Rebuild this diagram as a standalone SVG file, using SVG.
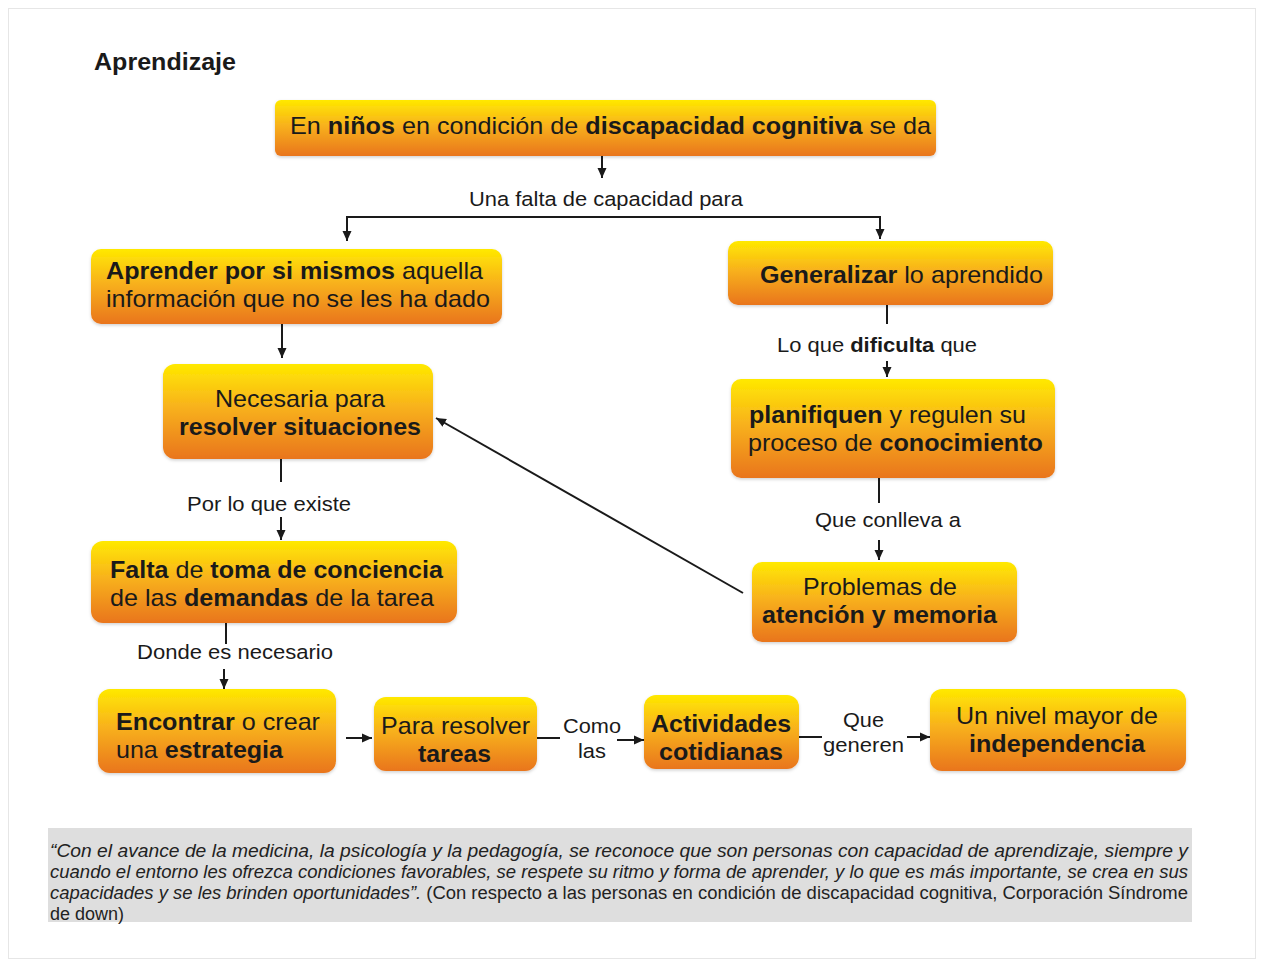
<svg xmlns="http://www.w3.org/2000/svg" width="1262" height="962" viewBox="0 0 1262 962">
  <style>
    .box { fill: url(#orange); filter: url(#soft); }
    .bt { font-family: "Liberation Sans", Arial, sans-serif; font-size: 24px; fill: #1a1a1a; }
    .b { font-weight: bold; }
    .lbl { font-family: "Liberation Sans", Arial, sans-serif; font-size: 20.5px; fill: #1a1a1a; }
    .ln { fill: none; stroke: #1a1a1a; stroke-width: 2; }
    .q { font-family: "Liberation Sans", Arial, sans-serif; font-size: 18px; fill: #222; }
    .i { font-style: italic; }
  </style>
  <defs>
    <linearGradient id="orange" x1="0" y1="0" x2="0" y2="1">
      <stop offset="0" stop-color="#ffe900"/>
      <stop offset="0.45" stop-color="#f8b21c"/>
      <stop offset="1" stop-color="#e9751b"/>
    </linearGradient>
    <filter id="soft" x="-5%" y="-10%" width="110%" height="125%">
      <feDropShadow dx="0" dy="1.5" stdDeviation="1.5" flood-color="#000" flood-opacity="0.18"/>
    </filter>
    <marker id="arr" markerUnits="userSpaceOnUse" markerWidth="12" markerHeight="12" refX="10" refY="6" orient="auto">
      <path d="M0,1.5 L10,6 L0,10.5 Z" fill="#1a1a1a"/>
    </marker>
  </defs>

  <rect width="1262" height="962" fill="#fff"/>
  <rect x="8.5" y="8.5" width="1247" height="950" fill="none" stroke="#e6e6e6" stroke-width="1"/>

  <text x="94" y="70" font-family="Liberation Sans, Arial, sans-serif" font-size="23" font-weight="bold" fill="#1a1a1a" textLength="142" lengthAdjust="spacingAndGlyphs">Aprendizaje</text>

  <!-- connectors -->
  <g id="connectors">
    <line class="ln" x1="602" y1="156" x2="602" y2="178" marker-end="url(#arr)"/>
    <text class="lbl" x="469" y="206" textLength="274" lengthAdjust="spacingAndGlyphs">Una falta de capacidad para</text>
    <polyline class="ln" points="347,240 347,217 880,217 880,239" marker-end="url(#arr)"/>
    <line class="ln" x1="347" y1="222" x2="347" y2="241" marker-end="url(#arr)"/>

    <line class="ln" x1="282" y1="324" x2="282" y2="358" marker-end="url(#arr)"/>

    <line class="ln" x1="281" y1="459" x2="281" y2="482"/>
    <text class="lbl" x="187" y="511" textLength="164" lengthAdjust="spacingAndGlyphs">Por lo que existe</text>
    <line class="ln" x1="281" y1="517" x2="281" y2="540" marker-end="url(#arr)"/>

    <line class="ln" x1="226" y1="623" x2="226" y2="644"/>
    <text class="lbl" x="137" y="659" textLength="196" lengthAdjust="spacingAndGlyphs">Donde es necesario</text>
    <line class="ln" x1="224" y1="669" x2="224" y2="689" marker-end="url(#arr)"/>

    <line class="ln" x1="346" y1="738" x2="372" y2="738" marker-end="url(#arr)"/>

    <line class="ln" x1="537" y1="738" x2="560" y2="738"/>
    <text class="lbl" x="563" y="733" textLength="58" lengthAdjust="spacingAndGlyphs">Como</text>
    <text class="lbl" x="578" y="758" textLength="28" lengthAdjust="spacingAndGlyphs">las</text>
    <line class="ln" x1="617" y1="740" x2="644" y2="740" marker-end="url(#arr)"/>

    <line class="ln" x1="799" y1="737" x2="822" y2="737"/>
    <text class="lbl" x="843" y="727" textLength="41" lengthAdjust="spacingAndGlyphs">Que</text>
    <text class="lbl" x="823" y="752" textLength="81" lengthAdjust="spacingAndGlyphs">generen</text>
    <line class="ln" x1="907" y1="737" x2="930" y2="737" marker-end="url(#arr)"/>

    <line class="ln" x1="887" y1="305" x2="887" y2="324"/>
    <text class="lbl" x="777" y="352" textLength="200" lengthAdjust="spacingAndGlyphs">Lo que <tspan class="b">dificulta</tspan> que</text>
    <line class="ln" x1="887" y1="361" x2="887" y2="377" marker-end="url(#arr)"/>

    <line class="ln" x1="879" y1="478" x2="879" y2="503"/>
    <text class="lbl" x="815" y="527" textLength="146" lengthAdjust="spacingAndGlyphs">Que conlleva a</text>
    <line class="ln" x1="879" y1="540" x2="879" y2="560" marker-end="url(#arr)"/>

    <line class="ln" x1="743" y1="593" x2="436" y2="418" marker-end="url(#arr)"/>
  </g>

  <!-- nodes -->
  <g id="n-origen">
    <rect class="box" x="275" y="100" width="661" height="56" rx="6"/>
    <text class="bt" x="290" y="134" textLength="641" lengthAdjust="spacingAndGlyphs">En <tspan class="b">niños</tspan> en condición de <tspan class="b">discapacidad cognitiva</tspan> se da</text>
  </g>
  <g id="n-aprender">
    <rect class="box" x="91" y="249" width="411" height="75" rx="10"/>
    <text class="bt" x="106" y="279" textLength="377" lengthAdjust="spacingAndGlyphs"><tspan class="b">Aprender por si mismos</tspan> aquella</text>
    <text class="bt" x="106" y="307" textLength="384" lengthAdjust="spacingAndGlyphs">información que no se les ha dado</text>
  </g>
  <g id="n-generalizar">
    <rect class="box" x="728" y="241" width="325" height="64" rx="10"/>
    <text class="bt" x="760" y="283" textLength="283" lengthAdjust="spacingAndGlyphs"><tspan class="b">Generalizar</tspan> lo aprendido</text>
  </g>
  <g id="n-necesaria">
    <rect class="box" x="163" y="364" width="270" height="95" rx="12"/>
    <text class="bt" x="215" y="407" textLength="170" lengthAdjust="spacingAndGlyphs">Necesaria para</text>
    <text class="bt b" x="179" y="435" textLength="242" lengthAdjust="spacingAndGlyphs">resolver situaciones</text>
  </g>
  <g id="n-planifiquen">
    <rect class="box" x="731" y="379" width="324" height="99" rx="10"/>
    <text class="bt" x="749" y="423" textLength="277" lengthAdjust="spacingAndGlyphs"><tspan class="b">planifiquen</tspan> y regulen su</text>
    <text class="bt" x="748" y="451" textLength="295" lengthAdjust="spacingAndGlyphs">proceso de <tspan class="b">conocimiento</tspan></text>
  </g>
  <g id="n-falta">
    <rect class="box" x="91" y="541" width="366" height="82" rx="12"/>
    <text class="bt" x="110" y="578" textLength="333" lengthAdjust="spacingAndGlyphs"><tspan class="b">Falta</tspan> de <tspan class="b">toma de conciencia</tspan></text>
    <text class="bt" x="110" y="606" textLength="324" lengthAdjust="spacingAndGlyphs">de las <tspan class="b">demandas</tspan> de la tarea</text>
  </g>
  <g id="n-problemas">
    <rect class="box" x="752" y="562" width="265" height="80" rx="10"/>
    <text class="bt" x="803" y="595" textLength="154" lengthAdjust="spacingAndGlyphs">Problemas de</text>
    <text class="bt b" x="762" y="623" textLength="235" lengthAdjust="spacingAndGlyphs">atención y memoria</text>
  </g>
  <g id="n-encontrar">
    <rect class="box" x="98" y="689" width="238" height="84" rx="12"/>
    <text class="bt" x="116" y="730" textLength="204" lengthAdjust="spacingAndGlyphs"><tspan class="b">Encontrar</tspan> o crear</text>
    <text class="bt" x="116" y="758" textLength="167" lengthAdjust="spacingAndGlyphs">una <tspan class="b">estrategia</tspan></text>
  </g>
  <g id="n-resolver">
    <rect class="box" x="374" y="697" width="163" height="74" rx="12"/>
    <text class="bt" x="381" y="734" textLength="149" lengthAdjust="spacingAndGlyphs">Para resolver</text>
    <text class="bt b" x="418" y="762" textLength="73" lengthAdjust="spacingAndGlyphs">tareas</text>
  </g>
  <g id="n-actividades">
    <rect class="box" x="644" y="695" width="155" height="74" rx="12"/>
    <text class="bt b" x="651" y="732" textLength="140" lengthAdjust="spacingAndGlyphs">Actividades</text>
    <text class="bt b" x="659" y="760" textLength="124" lengthAdjust="spacingAndGlyphs">cotidianas</text>
  </g>
  <g id="n-independencia">
    <rect class="box" x="930" y="689" width="256" height="82" rx="12"/>
    <text class="bt" x="956" y="724" textLength="202" lengthAdjust="spacingAndGlyphs">Un nivel mayor de</text>
    <text class="bt b" x="969" y="752" textLength="176" lengthAdjust="spacingAndGlyphs">independencia</text>
  </g>

  <!-- quotation -->
  <g id="cita">
    <rect x="48" y="828" width="1144" height="94" fill="#dedede"/>
    <text class="q i" x="50" y="857" textLength="1138" lengthAdjust="spacingAndGlyphs">“Con el avance de la medicina, la psicología y la pedagogía, se reconoce que son personas con capacidad de aprendizaje, siempre y</text>
    <text class="q i" x="50" y="878" textLength="1138" lengthAdjust="spacingAndGlyphs">cuando el entorno les ofrezca condiciones favorables, se respete su ritmo y forma de aprender, y lo que es más importante, se crea en sus</text>
    <text class="q" x="50" y="899" textLength="1138" lengthAdjust="spacingAndGlyphs"><tspan class="i">capacidades y se les brinden oportunidades”.</tspan> (Con respecto a las personas en condición de discapacidad cognitiva, Corporación Síndrome</text>
    <text class="q" x="50" y="920" textLength="74" lengthAdjust="spacingAndGlyphs">de down)</text>
  </g>
</svg>
